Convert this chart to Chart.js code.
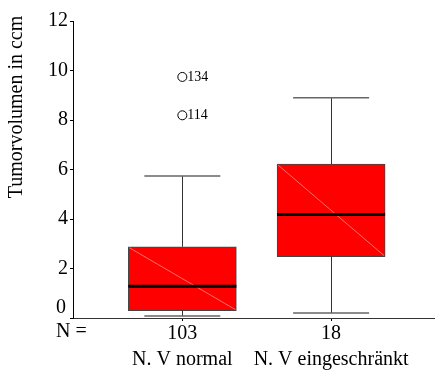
<!DOCTYPE html>
<html>
<head>
<meta charset="utf-8">
<script src="https://cdn.jsdelivr.net/npm/chart.js@4"></script>
<style>
  html, body { margin: 0; padding: 0; background: #fff; }
  #wrap { width: 440px; height: 374px; }
</style>
</head>
<body>
<div id="wrap"><canvas id="chart"></canvas></div>
<script>
// --- data ---
const groups = ["N. V normal", "N. V eingeschränkt"];
const counts = ["103", "18"];
const whiskerLow = [0.08, 0.2];
const q1 = [0.3, 2.48];
const median = [1.28, 4.18];
const q3 = [2.88, 6.22];
const whiskerHigh = [5.74, 8.9];
const outlierGroup = [0, 0];
const outlierValues = [9.74, 8.19];
const outlierCases = ["134", "114"];
const yTicks = [0, 2, 4, 6, 8, 10, 12];
const yTitle = "Tumorvolumen in ccm";

const SERIF = "'Liberation Serif', 'Times New Roman', serif";
const BOX_W = 108;
const CAP_W = 76;

// whiskers, median, labels drawn on top of the bars
const boxExtras = {
  id: "boxExtras",
  afterDatasetsDraw(chart) {
    const { ctx, scales: { x, y } } = chart;
    ctx.save();
    groups.forEach((g, i) => {
      const px = x.getPixelForValue(i + 1);
      const yq1 = y.getPixelForValue(q1[i]);
      const yq3 = y.getPixelForValue(q3[i]);
      const left = px - BOX_W / 2, right = px + BOX_W / 2;

      // faint diagonal inside the box
      ctx.strokeStyle = "rgba(255,170,170,0.9)";
      ctx.lineWidth = 0.7;
      ctx.beginPath();
      ctx.moveTo(left + 1, yq3 + 1);
      ctx.lineTo(right - 1, yq1 - 1);
      ctx.stroke();

      // median
      const ym = y.getPixelForValue(median[i]);
      ctx.strokeStyle = "#000";
      ctx.lineWidth = 3;
      ctx.beginPath();
      ctx.moveTo(left, ym);
      ctx.lineTo(right, ym);
      ctx.stroke();

      // whiskers
      const yHi = y.getPixelForValue(whiskerHigh[i]);
      const yLo = y.getPixelForValue(whiskerLow[i]);
      const wx = Math.round(px) + 0.5;
      ctx.strokeStyle = "#333";
      ctx.lineWidth = 1;
      ctx.beginPath();
      ctx.moveTo(wx, yq3);
      ctx.lineTo(wx, yHi);
      ctx.moveTo(wx, yq1);
      ctx.lineTo(wx, yLo);
      ctx.stroke();

      // caps
      ctx.strokeStyle = "#666";
      ctx.lineWidth = 1.5;
      ctx.beginPath();
      ctx.moveTo(px - CAP_W / 2, yHi);
      ctx.lineTo(px + CAP_W / 2, yHi);
      ctx.moveTo(px - CAP_W / 2, yLo);
      ctx.lineTo(px + CAP_W / 2, yLo);
      ctx.stroke();
    });

    // outlier case numbers
    ctx.fillStyle = "#000";
    ctx.font = "14px " + SERIF;
    ctx.textAlign = "left";
    ctx.textBaseline = "middle";
    outlierValues.forEach((v, k) => {
      const px = x.getPixelForValue(outlierGroup[k] + 1);
      ctx.fillText(outlierCases[k], px + 5, y.getPixelForValue(v) + 0.5);
    });

    // "0" tick label sits raised above the axis, "N =" before the counts
    ctx.font = "20px " + SERIF;
    ctx.textAlign = "right";
    ctx.fillText("0", x.left - 7, y.getPixelForValue(0) - 10);
    ctx.textAlign = "left";
    ctx.fillText("N =", 56, y.getPixelForValue(0) + 14);

    // y title, placed like the original (above the axis centre)
    ctx.translate(17, 107);
    ctx.rotate(-Math.PI / 2);
    ctx.textAlign = "center";
    ctx.fillText(yTitle, 0, 0);
    ctx.restore();
  }
};

new Chart(document.getElementById("chart"), {
  type: "bar",
  data: {
    datasets: [
      {
        data: groups.map((g, i) => ({ x: i + 1, y: [q1[i], q3[i]] })),
        backgroundColor: "#ff0000",
        borderColor: "#444",
        borderWidth: 1,
        borderSkipped: false,
        barThickness: BOX_W
      },
      {
        type: "scatter",
        data: outlierValues.map((v, k) => ({ x: outlierGroup[k] + 1, y: v })),
        pointStyle: "circle",
        radius: 4.5,
        borderColor: "#000",
        borderWidth: 1,
        backgroundColor: "rgba(0,0,0,0)"
      }
    ]
  },
  options: {
    responsive: true,
    maintainAspectRatio: false,
    animation: false,
    layout: { padding: { top: 21, right: 0, left: 0, bottom: 0 } },
    plugins: { legend: { display: false }, tooltip: { enabled: false } },
    scales: {
      x: {
        type: "linear",
        min: 0.265,
        max: 2.695,
        offset: false,
        afterBuildTicks: s => { s.ticks = groups.map((g, i) => ({ value: i + 1 })); },
        afterFit: s => { s.height = 56; },
        ticks: {
          callback: v => [counts[v - 1], groups[v - 1]],
          color: "#000",
          font: { family: SERIF, size: 20, lineHeight: 1.28 },
          padding: 0,
          maxRotation: 0,
          autoSkip: false
        },
        grid: { display: true, offset: false, drawOnChartArea: false, drawTicks: true, tickLength: 3, color: "#000" },
        border: { display: true, color: "#333", width: 1 }
      },
      y: {
        min: 0,
        max: 12,
        afterBuildTicks: s => { s.ticks = yTicks.map(v => ({ value: v })); },
        afterFit: s => { s.width = 73; },
        ticks: {
          callback: v => (v === 0 ? "" : v),
          color: "#000",
          font: { family: SERIF, size: 20 },
          padding: 2
        },
        grid: { display: true, drawOnChartArea: false, drawTicks: true, tickLength: 3, color: "#000" },
        border: { display: true, color: "#000", width: 1 }
      }
    }
  },
  plugins: [boxExtras]
});
</script>
</body>
</html>
